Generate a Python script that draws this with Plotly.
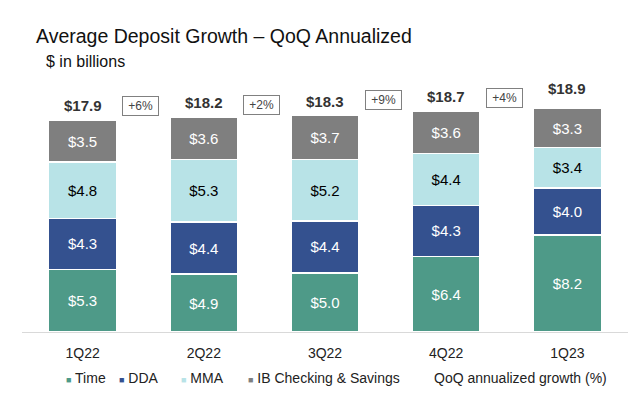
import plotly.graph_objects as go

quarters = ["1Q22", "2Q22", "3Q22", "4Q22", "1Q23"]
time_vals = [5.3, 4.9, 5.0, 6.4, 8.2]
dda_vals = [4.3, 4.4, 4.4, 4.3, 4.0]
mma_vals = [4.8, 5.3, 5.2, 4.4, 3.4]
ib_vals = [3.5, 3.6, 3.7, 3.6, 3.3]
totals = [17.9, 18.2, 18.3, 18.7, 18.9]
growth_labels = ["+6%", "+2%", "+9%", "+4%"]

series = [
    ("Time", time_vals, "#4E9A88", "white"),
    ("DDA", dda_vals, "#34518F", "white"),
    ("MMA", mma_vals, "#B8E3E7", "black"),
    ("IB Checking & Savings", ib_vals, "#7F7F7F", "white"),
]

FONT = "Liberation Sans, Arial, sans-serif"

fig = go.Figure()
for name, vals, color, tcolor in series:
    fig.add_trace(go.Bar(
        x=quarters, y=vals, name=name,
        marker=dict(color=color, line=dict(color="white", width=1.5)),
        width=0.56,
        text=[f"${v:.1f}" for v in vals],
        textposition="inside", insidetextanchor="middle",
        textfont=dict(size=15, color=tcolor, family=FONT),
        showlegend=False, cliponaxis=False,
    ))

annotations = []
# totals above bars
for i, t in enumerate(totals):
    annotations.append(dict(
        x=quarters[i], y=t, xref="x", yref="y", text=f"<b>${t:.1f}</b>",
        showarrow=False, yanchor="bottom", yshift=4 + (6 if i == 4 else 0),
        font=dict(size=15, color="#333333", family=FONT),
    ))
# growth boxes between bars
for i, g in enumerate(growth_labels):
    ymax = max(totals[i], totals[i + 1])
    annotations.append(dict(
        x=i + 0.48, y=ymax + 0.9, xref="x", yref="y", text=f" {g} ",
        showarrow=False, font=dict(size=12, color="#444444", family=FONT),
        bordercolor="#808080", borderwidth=1, borderpad=2, bgcolor="white",
    ))
# subtitle
annotations.append(dict(
    x=(44 - 22) / 606, y=(332 - 62) / 260, xref="paper", yref="paper", text="$ in billions",
    showarrow=False, xanchor="left", yanchor="middle",
    font=dict(size=16, color="#111111", family=FONT),
))

# legend row
legend_items = [
    ("Time", "#4E9A88", 64),
    ("DDA", "#34518F", 117),
    ("MMA", "#B8E3E7", 179),
    ("IB Checking & Savings", "#7F7F7F", 246),
    ("QoQ annualized growth (%)", None, 432),
]
for label, color, px in legend_items:
    if color:
        txt = f'<span style="color:{color};font-size:9px">■</span> {label}'
    else:
        txt = label
    annotations.append(dict(
        x=(px - 22) / 606, y=(332 - 378) / 260, xref="paper", yref="paper",
        text=txt, showarrow=False, xanchor="left", yanchor="middle",
        font=dict(size=14, color="#222222", family=FONT),
    ))

fig.update_layout(
    barmode="stack",
    width=640, height=401,
    margin=dict(l=22, r=12, t=72, b=69),
    paper_bgcolor="white", plot_bgcolor="white",
    title=dict(
        text="Average Deposit Growth – QoQ Annualized",
        xref="container", yref="container", x=36 / 640, y=(401 - 36) / 401,
        xanchor="left", yanchor="middle",
        font=dict(size=19.5, color="#111111", family=FONT),
    ),
    xaxis=dict(
        showline=True, linecolor="#D9D9D9", linewidth=1, showgrid=False,
        ticks="", tickfont=dict(size=14, color="#222222", family=FONT),
        ticklabelstandoff=8,
    ),
    yaxis=dict(range=[0, 22], visible=False, showgrid=False),
    annotations=annotations,
    showlegend=False,
    bargap=0.44,
)

fig.write_html("out.html", config={"displayModeBar": False},
               post_script="document.body.style.margin='0';")
